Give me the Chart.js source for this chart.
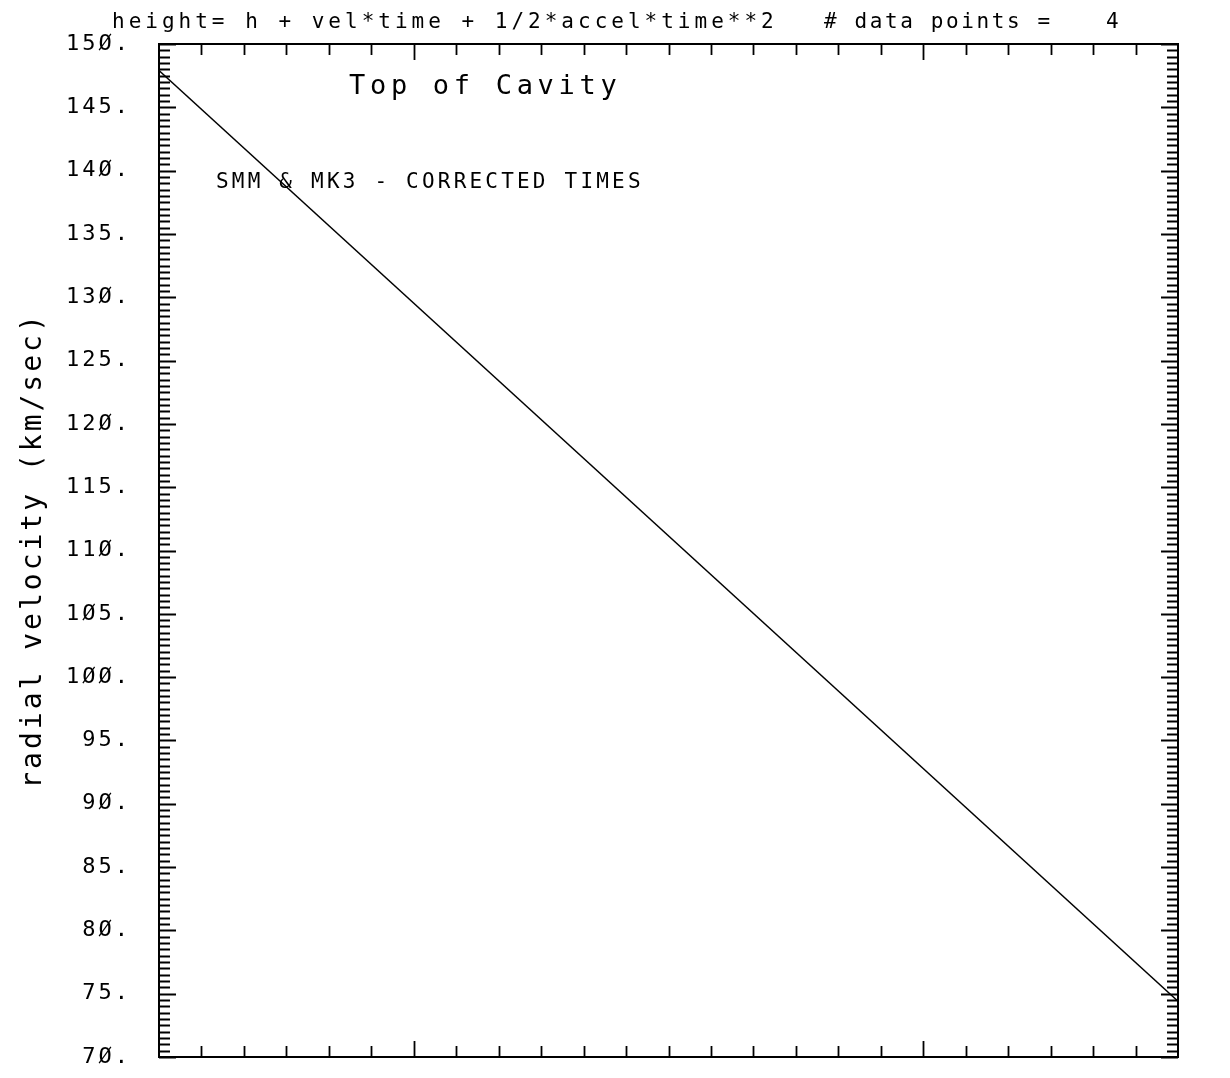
<!DOCTYPE html>
<html>
<head>
<meta charset="utf-8">
<script src="https://cdn.jsdelivr.net/npm/chart.js@4/dist/chart.umd.min.js"></script>
<style>
    body { margin: 0; background: #fff; overflow: hidden; }
    canvas { display: block; }
</style>
</head>
<body>
<canvas id="fit" width="1230" height="1078"></canvas>
<script>
/*--------------------DATA--------------------*/
// fitted velocity line (x axis has no labels)
let timeVals = [0, 24];
let velocityVals = [147.9, 74.4];
let velMin = 70, velMax = 150, velStep = 5;
let timeMin = 0, timeMax = 24;
let timeMajor = [6, 18];

let headerLeft = 'height= h + vel*time + 1/2*accel*time**2';
let headerRight = '# data points =';
let headerCount = '4';
let plotTitle = 'Top of Cavity';
let plotNote = 'SMM & MK3 - CORRECTED TIMES';
let yTitle = 'radial velocity (km/sec)';

const MONO = '"DejaVu Sans Mono", monospace';

/*--------------------PLUGIN--------------------*/
let plotterLook = {
    id: 'plotterLook',
    beforeDraw(chart) {
        chart.ctx.letterSpacing = '3px';
    },
    afterDraw(chart) {
        let ctx = chart.ctx;
        let a = chart.chartArea;
        let xs = chart.scales.x, ys = chart.scales.y;
        ctx.save();
        ctx.strokeStyle = '#000';
        ctx.lineWidth = 2;
        ctx.strokeRect(a.left, a.top, a.right - a.left, a.bottom - a.top);

        // inward ticks on all four sides
        ctx.lineWidth = 1.8;
        ctx.beginPath();
        for (let v = velMin; v <= velMax + 0.001; v += 0.5) {
            let y = Math.round(ys.getPixelForValue(v)) + 0.5;
            let len = (Math.abs(v % velStep) < 0.01) ? 17 : 11;
            ctx.moveTo(a.left, y); ctx.lineTo(a.left + len, y);
            ctx.moveTo(a.right, y); ctx.lineTo(a.right - len, y);
        }
        for (let t = timeMin + 1; t < timeMax; t++) {
            let x = Math.round(xs.getPixelForValue(t)) + 0.5;
            let len = timeMajor.includes(t) ? 16 : 11;
            ctx.moveTo(x, a.bottom); ctx.lineTo(x, a.bottom - len);
            ctx.moveTo(x, a.top); ctx.lineTo(x, a.top + len);
        }
        ctx.stroke();

        // texts
        ctx.fillStyle = '#000';
        ctx.textBaseline = 'alphabetic';
        ctx.textAlign = 'left';
        ctx.font = '21px ' + MONO;
        ctx.letterSpacing = '4px';
        ctx.fillText(headerLeft, 112, 28);
        ctx.letterSpacing = '2.6px';
        ctx.fillText(headerRight, 824, 28);
        ctx.fillText(headerCount, 1106, 28);

        ctx.font = '27px ' + MONO;
        ctx.letterSpacing = '4.7px';
        ctx.fillText(plotTitle, 349, 94);

        ctx.font = '21px ' + MONO;
        ctx.letterSpacing = '3.2px';
        ctx.fillText(plotNote, 216, 188);
        ctx.restore();
        ctx.letterSpacing = '0px';
    }
};

/*--------------------CHART--------------------*/
let fitCanvas = document.getElementById('fit');
let fitChart = new Chart(fitCanvas, {
    type: 'line',
    data: {
        datasets: [
            {
                data: timeVals.map((t, i) => ({ x: t, y: velocityVals[i] })),
                borderColor: '#000',
                borderWidth: 1.5,
                pointRadius: 0,
                fill: false,
                tension: 0
            }
        ]
    },
    options: {
        responsive: false,
        animation: false,
        layout: { padding: { top: 44, right: 52, bottom: 21, left: 0 } },
        plugins: {
            legend: { display: false },
            tooltip: { enabled: false },
            title: { display: false }
        },
        scales: {
            x: {
                type: 'linear',
                min: timeMin,
                max: timeMax,
                display: false
            },
            y: {
                type: 'linear',
                min: velMin,
                max: velMax,
                grid: { display: false, drawTicks: false },
                border: { display: false },
                ticks: {
                    stepSize: velStep,
                    padding: 28,
                    color: '#000',
                    font: { family: MONO, size: 22 },
                    callback: (v) => String(v).replace(/0/g, 'Ø') + '.'
                },
                title: {
                    display: true,
                    text: yTitle,
                    color: '#000',
                    font: { family: MONO, size: 28 },
                    padding: { top: 17, bottom: 0 }
                },
                afterFit: (scale) => {
                    scale.width = 159;
                    scale.paddingTop = 0;
                    scale.paddingBottom = 0;
                }
            }
        }
    },
    plugins: [plotterLook]
});
</script>
</body>
</html>
